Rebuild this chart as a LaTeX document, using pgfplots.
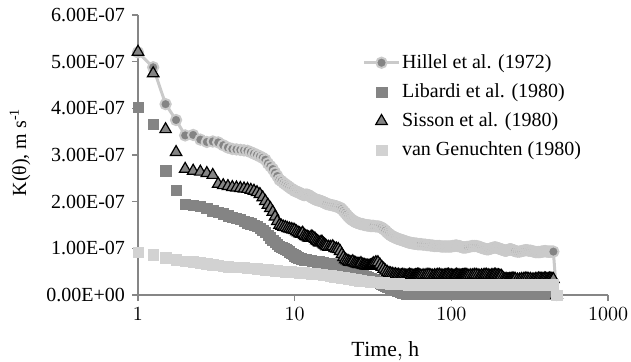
\documentclass[border=0pt]{standalone}
\usepackage{fontspec}
\setmainfont{Liberation Serif}
\usepackage{pgfplots}
\pgfplotsset{compat=1.18}
\usepackage{pgfplotstable}
\definecolor{axgray}{HTML}{868686}
\definecolor{hline}{HTML}{CACACA}
\definecolor{dgray}{HTML}{848484}
\definecolor{lgray}{HTML}{D2D2D2}
\pgfplotstableread{
t H L S V
1 5.20e-7 4.03e-7 5.21e-7 0.92e-7
1.25 4.88e-7 3.66e-7 4.75e-7 0.86e-7
1.5 4.09e-7 2.66e-7 3.55e-7 0.80e-7
1.75 3.75e-7 2.25e-7 3.06e-7 0.76e-7
2 3.42e-7 1.95e-7 2.70e-7 0.73e-7
2.25 3.43e-7 1.93e-7 2.66e-7 0.71e-7
2.5 3.33e-7 1.90e-7 2.64e-7 0.69e-7
2.75 3.28e-7 1.86e-7 2.61e-7 0.67e-7
3 3.29e-7 1.81e-7 2.57e-7 0.65e-7
3.25 3.27e-7 1.78e-7 2.38e-7 0.64e-7
3.5 3.21e-7 1.74e-7 2.35e-7 0.62e-7
3.75 3.16e-7 1.70e-7 2.33e-7 0.61e-7
4 3.13e-7 1.67e-7 2.31e-7 0.60e-7
4.25 3.12e-7 1.65e-7 2.30e-7 0.60e-7
4.5 3.11e-7 1.62e-7 2.29e-7 0.59e-7
4.75 3.10e-7 1.58e-7 2.28e-7 0.59e-7
5 3.09e-7 1.55e-7 2.27e-7 0.58e-7
5.25 3.06e-7 1.53e-7 2.25e-7 0.57e-7
5.5 3.03e-7 1.50e-7 2.23e-7 0.57e-7
5.75 3.00e-7 1.47e-7 2.20e-7 0.56e-7
6 2.97e-7 1.43e-7 2.16e-7 0.55e-7
6.25 2.94e-7 1.39e-7 2.09e-7 0.55e-7
6.5 2.90e-7 1.34e-7 2.01e-7 0.54e-7
6.75 2.82e-7 1.28e-7 1.93e-7 0.54e-7
7 2.76e-7 1.23e-7 1.86e-7 0.53e-7
7.25 2.70e-7 1.18e-7 1.78e-7 0.53e-7
7.5 2.62e-7 1.13e-7 1.68e-7 0.52e-7
7.75 2.55e-7 1.09e-7 1.58e-7 0.52e-7
8 2.47e-7 1.05e-7 1.50e-7 0.51e-7
8.25 2.44e-7 1.03e-7 1.48e-7 0.51e-7
8.5 2.40e-7 1.00e-7 1.46e-7 0.51e-7
8.75 2.37e-7 0.98e-7 1.45e-7 0.50e-7
9 2.34e-7 0.96e-7 1.43e-7 0.50e-7
9.25 2.31e-7 0.93e-7 1.42e-7 0.50e-7
9.5 2.28e-7 0.90e-7 1.41e-7 0.50e-7
9.75 2.26e-7 0.87e-7 1.40e-7 0.49e-7
10 2.23e-7 0.84e-7 1.39e-7 0.49e-7
10.25 2.22e-7 0.82e-7 1.36e-7 0.49e-7
10.5 2.20e-7 0.80e-7 1.34e-7 0.49e-7
10.75 2.19e-7 0.79e-7 1.32e-7 0.48e-7
11 2.17e-7 0.78e-7 1.31e-7 0.48e-7
11.25 2.15e-7 0.77e-7 1.33e-7 0.48e-7
11.5 2.14e-7 0.76e-7 1.28e-7 0.48e-7
11.75 2.15e-7 0.76e-7 1.26e-7 0.47e-7
12 2.15e-7 0.75e-7 1.25e-7 0.47e-7
12.25 2.14e-7 0.75e-7 1.23e-7 0.47e-7
12.5 2.12e-7 0.74e-7 1.22e-7 0.47e-7
12.75 2.10e-7 0.74e-7 1.25e-7 0.46e-7
13 2.08e-7 0.73e-7 1.24e-7 0.46e-7
13.25 2.07e-7 0.73e-7 1.22e-7 0.46e-7
13.5 2.05e-7 0.72e-7 1.20e-7 0.46e-7
13.75 2.04e-7 0.72e-7 1.17e-7 0.45e-7
14 2.03e-7 0.71e-7 1.15e-7 0.45e-7
14.25 2.03e-7 0.71e-7 1.13e-7 0.45e-7
14.5 2.02e-7 0.70e-7 1.12e-7 0.44e-7
14.75 2.01e-7 0.70e-7 1.14e-7 0.44e-7
15 2.00e-7 0.69e-7 1.13e-7 0.44e-7
15.25 1.99e-7 0.69e-7 1.10e-7 0.43e-7
15.5 1.98e-7 0.68e-7 1.08e-7 0.43e-7
15.75 1.97e-7 0.68e-7 1.06e-7 0.43e-7
16 1.95e-7 0.67e-7 1.04e-7 0.42e-7
16.5 1.94e-7 0.67e-7 1.03e-7 0.42e-7
17 1.93e-7 0.66e-7 1.03e-7 0.41e-7
17.5 1.92e-7 0.65e-7 1.04e-7 0.40e-7
18 1.91e-7 0.64e-7 1.00e-7 0.39e-7
18.5 1.90e-7 0.63e-7 0.99e-7 0.39e-7
19 1.88e-7 0.62e-7 0.98e-7 0.38e-7
19.5 1.87e-7 0.61e-7 0.94e-7 0.38e-7
20 1.84e-7 0.60e-7 0.87e-7 0.37e-7
20.5 1.80e-7 0.58e-7 0.81e-7 0.37e-7
21 1.76e-7 0.57e-7 0.76e-7 0.36e-7
21.5 1.72e-7 0.56e-7 0.74e-7 0.36e-7
22 1.68e-7 0.55e-7 0.72e-7 0.35e-7
22.5 1.65e-7 0.53e-7 0.71e-7 0.35e-7
23 1.62e-7 0.52e-7 0.70e-7 0.34e-7
23.5 1.60e-7 0.51e-7 0.72e-7 0.34e-7
24 1.58e-7 0.50e-7 0.69e-7 0.33e-7
24.5 1.56e-7 0.49e-7 0.68e-7 0.33e-7
25 1.55e-7 0.48e-7 0.67e-7 0.32e-7
25.5 1.54e-7 0.46e-7 0.66e-7 0.32e-7
26 1.53e-7 0.45e-7 0.66e-7 0.31e-7
26.5 1.52e-7 0.44e-7 0.68e-7 0.31e-7
27 1.52e-7 0.43e-7 0.65e-7 0.30e-7
27.5 1.51e-7 0.41e-7 0.64e-7 0.30e-7
28 1.50e-7 0.40e-7 0.64e-7 0.30e-7
28.5 1.50e-7 0.39e-7 0.63e-7 0.29e-7
29 1.49e-7 0.38e-7 0.63e-7 0.29e-7
29.5 1.49e-7 0.37e-7 0.62e-7 0.29e-7
30 1.49e-7 0.36e-7 0.62e-7 0.29e-7
30.5 1.48e-7 0.35e-7 0.63e-7 0.28e-7
31 1.48e-7 0.34e-7 0.64e-7 0.28e-7
31.5 1.48e-7 0.33e-7 0.66e-7 0.28e-7
32 1.48e-7 0.32e-7 0.68e-7 0.28e-7
33 1.47e-7 0.30e-7 0.70e-7 0.27e-7
34 1.47e-7 0.28e-7 0.70e-7 0.27e-7
35 1.46e-7 0.26e-7 0.65e-7 0.27e-7
36 1.44e-7 0.24e-7 0.60e-7 0.26e-7
37 1.41e-7 0.22e-7 0.56e-7 0.26e-7
38 1.38e-7 0.20e-7 0.52e-7 0.25e-7
39 1.34e-7 0.18e-7 0.49e-7 0.25e-7
40 1.31e-7 0.17e-7 0.47e-7 0.25e-7
41 1.28e-7 0.15e-7 0.46e-7 0.24e-7
42 1.26e-7 0.14e-7 0.45e-7 0.24e-7
43 1.24e-7 0.12e-7 0.44e-7 0.24e-7
44 1.23e-7 0.11e-7 0.44e-7 0.24e-7
45 1.21e-7 0.09e-7 0.43e-7 0.24e-7
46 1.20e-7 0.08e-7 0.43e-7 0.24e-7
47 1.19e-7 0.07e-7 0.42e-7 0.23e-7
48 1.18e-7 0.06e-7 0.42e-7 0.23e-7
49 1.17e-7 0.05e-7 0.43e-7 0.23e-7
50 1.16e-7 0.04e-7 0.42e-7 0.23e-7
51 1.15e-7 0.04e-7 0.41e-7 0.23e-7
52 1.14e-7 0.03e-7 0.41e-7 0.23e-7
53 1.13e-7 0.03e-7 0.42e-7 0.22e-7
54 1.12e-7 0.03e-7 0.43e-7 0.22e-7
55 1.12e-7 0.03e-7 0.42e-7 0.22e-7
56 1.11e-7 0.03e-7 0.42e-7 0.22e-7
57 1.11e-7 0.02e-7 0.41e-7 0.22e-7
58 1.10e-7 0.02e-7 0.41e-7 0.22e-7
59 1.10e-7 0.02e-7 0.42e-7 0.23e-7
60 1.10e-7 0.02e-7 0.42e-7 0.23e-7
61 1.09e-7 0.02e-7 0.43e-7 0.22e-7
62 1.09e-7 0.02e-7 0.43e-7 0.22e-7
63 1.09e-7 0.02e-7 0.42e-7 0.22e-7
64 1.09e-7 0.02e-7 0.41e-7 0.22e-7
66 1.08e-7 0.02e-7 0.42e-7 0.23e-7
68 1.08e-7 0.02e-7 0.42e-7 0.23e-7
70 1.07e-7 0.02e-7 0.43e-7 0.22e-7
72 1.07e-7 0.02e-7 0.43e-7 0.22e-7
74 1.06e-7 0.02e-7 0.42e-7 0.22e-7
76 1.06e-7 0.02e-7 0.41e-7 0.22e-7
78 1.05e-7 0.02e-7 0.42e-7 0.23e-7
80 1.05e-7 0.02e-7 0.42e-7 0.23e-7
82 1.05e-7 0.02e-7 0.43e-7 0.22e-7
84 1.05e-7 0.02e-7 0.43e-7 0.22e-7
86 1.04e-7 0.02e-7 0.42e-7 0.22e-7
88 1.04e-7 0.02e-7 0.41e-7 0.22e-7
90 1.04e-7 0.02e-7 0.42e-7 0.23e-7
92 1.04e-7 0.02e-7 0.42e-7 0.23e-7
94 1.04e-7 0.02e-7 0.43e-7 0.22e-7
96 1.04e-7 0.02e-7 0.43e-7 0.22e-7
98 1.04e-7 0.02e-7 0.42e-7 0.22e-7
100 1.04e-7 0.02e-7 0.42e-7 0.22e-7
102 1.05e-7 0.02e-7 0.41e-7 0.23e-7
104 1.05e-7 0.02e-7 0.41e-7 0.23e-7
106 1.06e-7 0.02e-7 0.42e-7 0.22e-7
108 1.06e-7 0.02e-7 0.43e-7 0.22e-7
110 1.05e-7 0.02e-7 0.42e-7 0.22e-7
112 1.05e-7 0.02e-7 0.42e-7 0.22e-7
114 1.04e-7 0.02e-7 0.41e-7 0.23e-7
116 1.03e-7 0.02e-7 0.41e-7 0.23e-7
118 1.02e-7 0.02e-7 0.42e-7 0.22e-7
120 1.02e-7 0.02e-7 0.42e-7 0.22e-7
122 1.02e-7 0.02e-7 0.43e-7 0.22e-7
124 1.02e-7 0.02e-7 0.43e-7 0.22e-7
126 1.03e-7 0.02e-7 0.42e-7 0.23e-7
128 1.03e-7 0.02e-7 0.41e-7 0.23e-7
132 1.04e-7 0.02e-7 0.42e-7 0.22e-7
136 1.05e-7 0.02e-7 0.42e-7 0.22e-7
140 1.05e-7 0.02e-7 0.43e-7 0.22e-7
144 1.05e-7 0.02e-7 0.43e-7 0.22e-7
148 1.04e-7 0.02e-7 0.42e-7 0.23e-7
152 1.03e-7 0.02e-7 0.41e-7 0.23e-7
156 1.01e-7 0.02e-7 0.42e-7 0.22e-7
160 1.00e-7 0.02e-7 0.42e-7 0.22e-7
164 0.99e-7 0.02e-7 0.43e-7 0.22e-7
168 0.98e-7 0.02e-7 0.43e-7 0.22e-7
172 0.98e-7 0.02e-7 0.42e-7 0.23e-7
176 0.99e-7 0.02e-7 0.41e-7 0.23e-7
180 1.00e-7 0.02e-7 0.42e-7 0.22e-7
184 1.01e-7 0.02e-7 0.42e-7 0.22e-7
188 1.02e-7 0.02e-7 0.43e-7 0.22e-7
192 1.02e-7 0.02e-7 0.43e-7 0.22e-7
196 1.01e-7 0.02e-7 0.42e-7 0.23e-7
200 1.00e-7 0.02e-7 0.42e-7 0.23e-7
204 0.99e-7 0.02e-7 0.41e-7 0.22e-7
208 0.98e-7 0.02e-7 0.41e-7 0.22e-7
212 0.97e-7 0.02e-7 0.38e-7 0.22e-7
216 0.96e-7 0.02e-7 0.35e-7 0.22e-7
220 0.95e-7 0.02e-7 0.34e-7 0.23e-7
224 0.95e-7 0.02e-7 0.34e-7 0.23e-7
228 0.96e-7 0.02e-7 0.33e-7 0.22e-7
232 0.97e-7 0.02e-7 0.33e-7 0.22e-7
236 0.98e-7 0.02e-7 0.34e-7 0.22e-7
240 0.98e-7 0.02e-7 0.34e-7 0.22e-7
244 0.97e-7 0.02e-7 0.35e-7 0.23e-7
248 0.96e-7 0.02e-7 0.35e-7 0.23e-7
252 0.95e-7 0.02e-7 0.34e-7 0.22e-7
256 0.94e-7 0.02e-7 0.34e-7 0.22e-7
264 0.93e-7 0.02e-7 0.33e-7 0.22e-7
272 0.93e-7 0.02e-7 0.33e-7 0.22e-7
280 0.94e-7 0.02e-7 0.34e-7 0.23e-7
288 0.95e-7 0.02e-7 0.34e-7 0.23e-7
296 0.96e-7 0.02e-7 0.35e-7 0.22e-7
304 0.96e-7 0.02e-7 0.35e-7 0.22e-7
312 0.95e-7 0.02e-7 0.34e-7 0.22e-7
320 0.95e-7 0.02e-7 0.34e-7 0.22e-7
328 0.94e-7 0.02e-7 0.33e-7 0.23e-7
336 0.93e-7 0.02e-7 0.33e-7 0.23e-7
344 0.92e-7 0.02e-7 0.34e-7 0.22e-7
352 0.92e-7 0.02e-7 0.34e-7 0.22e-7
360 0.92e-7 0.02e-7 0.35e-7 0.22e-7
368 0.92e-7 0.02e-7 0.35e-7 0.22e-7
376 0.93e-7 0.02e-7 0.34e-7 0.23e-7
384 0.93e-7 0.02e-7 0.34e-7 0.23e-7
392 0.94e-7 0.02e-7 0.35e-7 0.22e-7
400 0.94e-7 0.02e-7 0.35e-7 0.22e-7
408 0.93e-7 0.02e-7 0.34e-7 0.22e-7
416 0.93e-7 0.02e-7 0.34e-7 0.22e-7
424 0.93e-7 0.02e-7 0.35e-7 0.23e-7
432 0.93e-7 0.02e-7 0.35e-7 0.23e-7
440 0.93e-7 0.02e-7 0.34e-7 0.22e-7
448 0.93e-7 0.02e-7 0.34e-7 0.22e-7
470 0 0 0 0
}\data
\begin{document}
\begin{tikzpicture}
\begin{axis}[name=ax, scale only axis, width=235pt, height=140pt,
  xmode=log, xmin=1, xmax=1000, ymin=0, ymax=6e-7,
  axis x line=bottom, axis y line=left,
  axis line style={axgray, line width=0.8pt, -},
  every tick/.style={axgray, line width=0.8pt},
  tick align=outside, major tick length=3pt,
  xtick={1,10,100,1000}, xticklabels={$1$,$10$,$100$,$1000$}, xminorticks=false,
  ytick={0,1e-7,2e-7,3e-7,4e-7,5e-7,6e-7},
  yticklabels={0.00E+00,1.00E-07,2.00E-07,3.00E-07,4.00E-07,5.00E-07,6.00E-07},
  scaled y ticks=false,
  xlabel={$\mathrm{Time}{,}\ \mathrm{h}$}, ylabel={K(θ), m s\textsuperscript{-1}},
  xlabel style={at={(axis description cs:0.526,-0.202)}, anchor=center, font=\fontsize{10.8}{13}\selectfont},
  ylabel style={at={(axis description cs:-0.251,0.51)}, anchor=center},
  legend style={draw=none, fill=none, at={(axis description cs:0.465,0.89)}, anchor=north west,
    row sep=2.1pt, nodes={inner sep=1pt, text height=8pt, text depth=2.5pt}},
  legend cell align=left,
]
\addplot[hline, line width=1.5pt, mark=*, mark size=2.6pt,
  mark options={fill=dgray, draw=hline, line width=0.95pt}] table[x=t, y=H] {\data};
\addlegendentry{Hillel et al. (1972)}
\addplot[dgray, only marks, mark=square*, mark size=2.6pt, mark options={fill=dgray, draw=dgray, line width=0.2pt}] table[x=t, y=L] {\data};
\addlegendentry{Libardi et al. (1980)}
\addplot[black, only marks, mark=triangle*, mark size=3.3pt, mark options={fill=dgray, draw=black, line width=0.6pt}] table[x=t, y=S] {\data};
\addlegendentry{Sisson et al. (1980)}
\addplot[lgray, only marks, mark=square*, mark size=2.6pt, mark options={fill=lgray, draw=lgray, line width=0.2pt}] table[x=t, y=V] {\data};
\addlegendentry{van Genuchten (1980)}
\end{axis}
\pgfresetboundingbox
\path[use as bounding box] ([shift={(-69pt,-33pt)}]ax.south west) rectangle ([shift={(246.5pt,147.5pt)}]ax.south west);
\end{tikzpicture}
\end{document}
